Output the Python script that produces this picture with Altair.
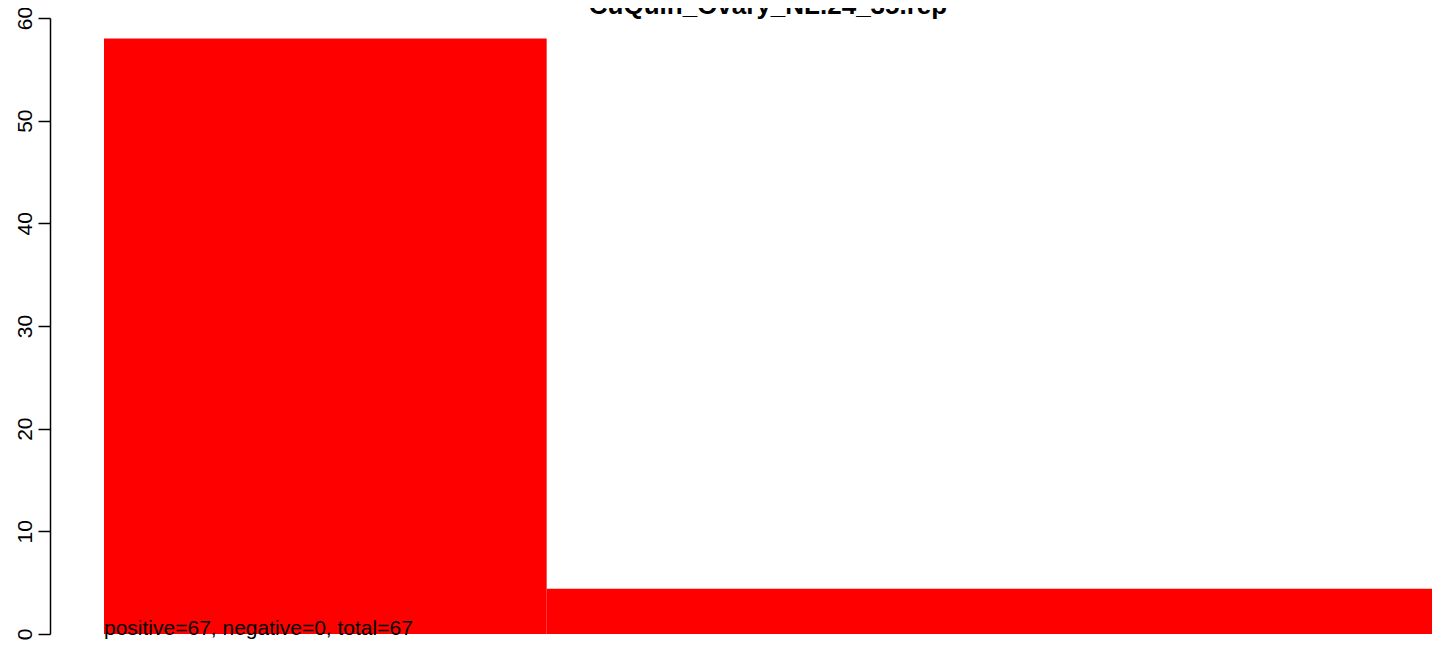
import altair as alt
import pandas as pd

bin_start = [0, 1]
bin_end = [1, 3]
heights = [58, 4.4]
title_text = "CuQuin_Ovary_NL.24_35.rep"
note_text = "positive=67, negative=0, total=67"
y_ticks = [0, 10, 20, 30, 40, 50, 60]

df = pd.DataFrame({"x0": bin_start, "x1": bin_end, "h": heights})

W = 1386
H = 616
xscale = alt.Scale(domain=[-0.122, 3.009], nice=False, zero=False)
yscale = alt.Scale(domain=[0, 60], nice=False)

bars = alt.Chart(df).mark_rect(color="#FF0000").encode(
    x=alt.X("x0:Q", scale=xscale, axis=None),
    x2="x1:Q",
    y=alt.Y("h:Q", scale=yscale,
            axis=alt.Axis(values=y_ticks, title=None, grid=False, ticks=True,
                          labelAngle=270, labelAlign="center", labelBaseline="alphabetic",
                          labelFont="Liberation Sans", labelFontSize=21, labelColor="black",
                          labelPadding=7, tickSize=12, tickColor="black", domainColor="black",
                          tickWidth=1.5, domainWidth=1.5, labelFlush=False,
                          labelOverlap=False)),
    y2=alt.datum(0),
)

note = alt.Chart(pd.DataFrame({"t": [note_text], "x": [0]})).mark_text(
    align="left", baseline="alphabetic", font="Liberation Sans", fontSize=21, color="black"
).encode(x=alt.X("x:Q", scale=xscale), y=alt.value(H + 1), text="t:N")

title = alt.Chart(pd.DataFrame({"t": [title_text]})).mark_text(
    align="center", baseline="alphabetic", font="Liberation Sans", fontSize=26,
    fontWeight="bold", color="black"
).encode(x=alt.value(718), y=alt.value(-4), text="t:N")

chart = alt.layer(bars, note, title).properties(
    width=W, height=H,
    autosize=alt.AutoSizeParams(type="none"),
    padding={"left": 42, "top": 10, "right": 0, "bottom": 13},
).configure_view(stroke=None)

chart.save("out.html", embed_options={"renderer": "svg", "actions": False})
